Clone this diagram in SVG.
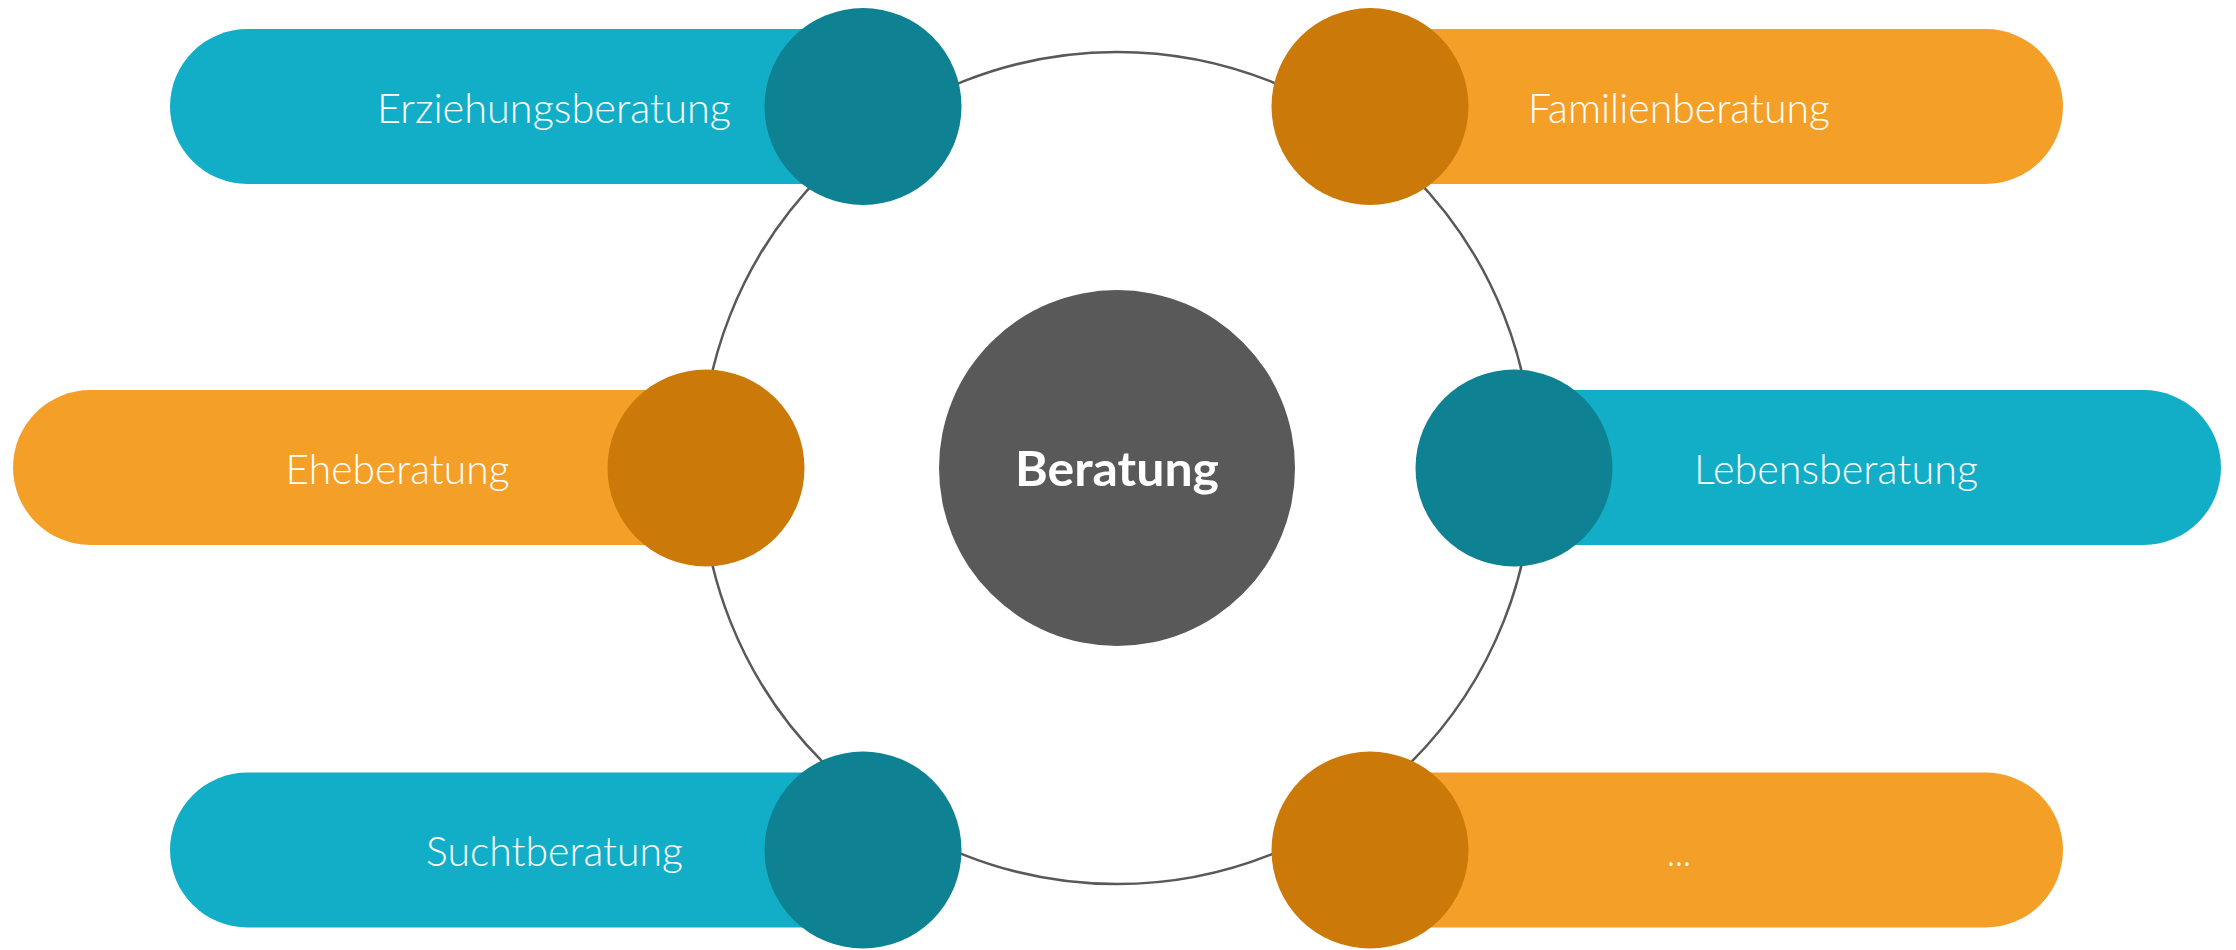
<svg xmlns="http://www.w3.org/2000/svg" width="2236" height="950" viewBox="0 0 2236 950">
  <style>
    .bg { fill: #ffffff; }
    .ring { fill: none; stroke: #595959; stroke-width: 2.5; }
    .pill-teal { fill: #12AEC7; }
    .pill-orange { fill: #F4A028; }
    .dot-teal { fill: #0E8292; }
    .dot-orange { fill: #CB7908; }
    .center { fill: #595959; }
    .label { font-family: "Lato", "Open Sans", "Liberation Sans", sans-serif; font-weight: 300; font-size: 42px; fill: #ffffff; text-anchor: middle; }
    .title { font-family: "Lato", "Liberation Sans", sans-serif; font-weight: 700; font-size: 47px; fill: #ffffff; text-anchor: middle; }
  </style>
  <rect class="bg" x="0" y="0" width="2236" height="950"/>
  <g id="connectors">
    <circle class="ring" cx="1117" cy="468" r="416"/>
  </g>
  <g id="node-erziehungsberatung">
    <rect class="pill-teal" x="170" y="29" width="720" height="155" rx="77.5" ry="77.5"/>
    <circle class="dot-teal" cx="863" cy="106.5" r="98.5"/>
    <text class="label" x="554" y="123" textLength="354" lengthAdjust="spacingAndGlyphs">Erziehungsberatung</text>
  </g>
  <g id="node-familienberatung">
    <rect class="pill-orange" x="1343" y="29" width="720" height="155" rx="77.5" ry="77.5"/>
    <circle class="dot-orange" cx="1370" cy="106.5" r="98.5"/>
    <text class="label" x="1679" y="123" textLength="302" lengthAdjust="spacingAndGlyphs">Familienberatung</text>
  </g>
  <g id="node-eheberatung">
    <rect class="pill-orange" x="13" y="390" width="720" height="155" rx="77.5" ry="77.5"/>
    <circle class="dot-orange" cx="706" cy="468" r="98.5"/>
    <text class="label" x="397.5" y="484" textLength="224" lengthAdjust="spacingAndGlyphs">Eheberatung</text>
  </g>
  <g id="node-lebensberatung">
    <rect class="pill-teal" x="1490" y="390" width="731" height="155" rx="77.5" ry="77.5"/>
    <circle class="dot-teal" cx="1514" cy="468" r="98.5"/>
    <text class="label" x="1836" y="484" textLength="284" lengthAdjust="spacingAndGlyphs">Lebensberatung</text>
  </g>
  <g id="node-suchtberatung">
    <rect class="pill-teal" x="170" y="772.5" width="720" height="155" rx="77.5" ry="77.5"/>
    <circle class="dot-teal" cx="863" cy="850" r="98.5"/>
    <text class="label" x="554.5" y="866" textLength="257" lengthAdjust="spacingAndGlyphs">Suchtberatung</text>
  </g>
  <g id="node-more">
    <rect class="pill-orange" x="1343" y="772.5" width="720" height="155" rx="77.5" ry="77.5"/>
    <circle class="dot-orange" cx="1370" cy="850" r="98.5"/>
    <text class="label" x="1679" y="866" textLength="24" lengthAdjust="spacingAndGlyphs">...</text>
  </g>
  <g id="node-beratung">
    <circle class="center" cx="1117" cy="468" r="178"/>
    <text class="title" x="1117" y="486" textLength="204" lengthAdjust="spacingAndGlyphs">Beratung</text>
  </g>
</svg>
